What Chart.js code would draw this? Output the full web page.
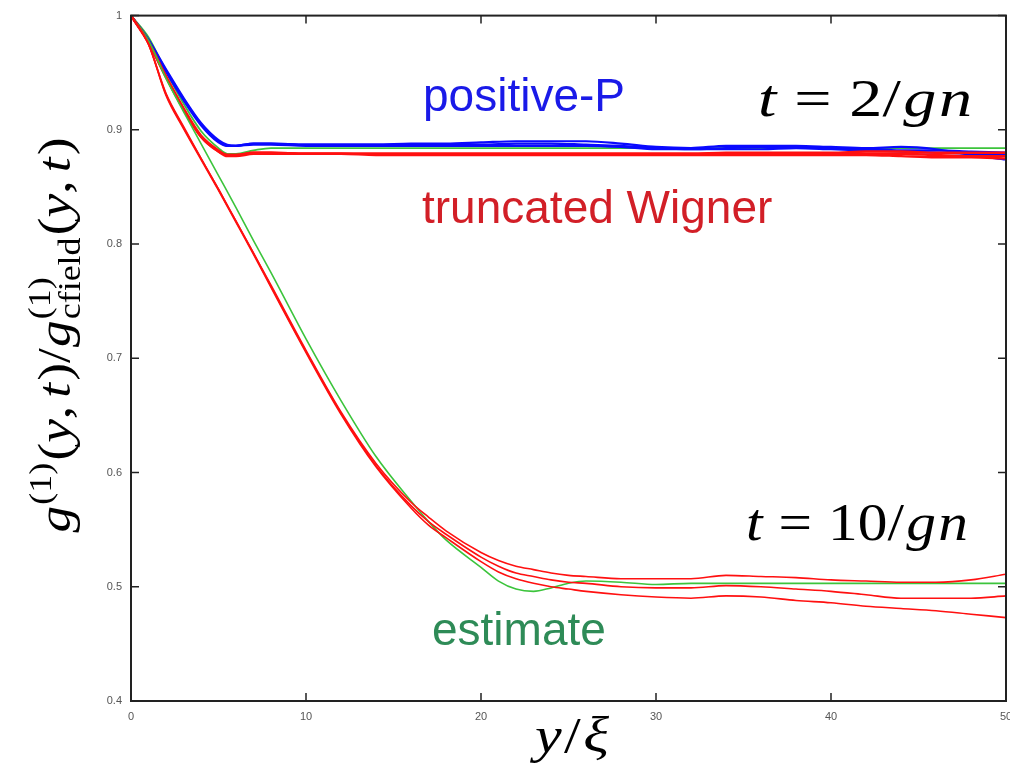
<!DOCTYPE html>
<html lang="en">
<head>
  <meta charset="UTF-8" />
  <title>g1 correlation vs y/xi</title>
  <script src="https://cdn.jsdelivr.net/npm/chart.js"></script>
  <style>
    html, body { margin: 0; padding: 0; background: #fff; overflow: hidden; }
    .wrap { width: 1010px; height: 765px; overflow: hidden; position: relative; }
    /* canvas a bit wider than the window so the "50" label gets cut like the original */
    .box { position: absolute; left: 0; top: 0; width: 1030px; height: 765px; }
  </style>
</head>
<body>
  <div class="wrap"><div class="box"><canvas id="g1Chart"></canvas></div></div>

  <script>
    // ---- data ----
    const xT2 = [0, 1, 2, 3, 4, 5, 5.5, 6, 7, 8, 10, 12, 14, 16, 18, 20, 22, 24, 26, 28, 30, 32, 34, 36, 38, 40, 42, 44, 46, 48, 50];

    const posPA = [1.0, .979, .953, .928, .906, .891, .887, .886, .888, .888, .887, .887, .887, .888, .888, .889, .890, .890, .890, .888, .885, .884, .886, .886, .886, .885, .884, .885, .883, .878, .874];
    const posPB = [1.0, .978, .952, .927, .905, .890, .886, .886, .888, .888, .887, .887, .887, .887, .887, .887, .888, .888, .887, .886, .884, .883, .884, .885, .885, .884, .883, .882, .882, .881, .880];
    const posPC = [1.0, .978, .951, .926, .904, .889, .886, .886, .887, .887, .886, .886, .886, .886, .886, .886, .886, .886, .886, .885, .883, .883, .883, .883, .884, .883, .882, .881, .880, .879, .878];

    const twA = [1.0, .977, .947, .919, .895, .882, .878, .878, .880, .880, .879, .879, .879, .879, .879, .879, .879, .879, .879, .879, .879, .879, .880, .880, .880, .880, .881, .881, .880, .880, .880];
    const twB = [1.0, .977, .946, .918, .894, .881, .878, .878, .880, .880, .879, .879, .879, .879, .879, .879, .879, .879, .879, .879, .879, .879, .879, .879, .879, .879, .879, .879, .878, .877, .877];
    const twC = [1.0, .976, .946, .918, .894, .881, .877, .877, .879, .879, .879, .879, .878, .878, .878, .878, .878, .878, .878, .878, .878, .878, .878, .878, .878, .878, .878, .877, .876, .876, .875];

    const estT2 = [1.0, .981, .951, .923, .899, .884, .879, .879, .882, .884, .884, .884, .884, .884, .884, .884, .884, .884, .884, .884, .884, .884, .884, .884, .884, .884, .884, .884, .884, .884, .884];

    const xT10 = [0, 1, 2, 3, 4, 5, 6, 7, 8, 10, 12, 14, 16, 17, 18, 20, 21, 22, 23, 24, 25, 26, 28, 30, 32, 34, 36, 38, 40, 42, 44, 46, 48, 50];

    const tw10A = [1.0, .975, .932, .903, .875, .848, .820, .792, .764, .707, .653, .608, .574, .561, .549, .530, .523, .518, .515, .512, .510, .509, .507, .507, .507, .510, .509, .508, .506, .505, .504, .504, .506, .511];
    const tw10B = [1.0, .975, .931, .902, .875, .848, .820, .792, .763, .706, .652, .606, .571, .557, .546, .526, .518, .512, .509, .506, .504, .503, .500, .499, .499, .501, .500, .498, .496, .493, .490, .490, .490, .492];
    const tw10C = [1.0, .975, .930, .901, .874, .847, .819, .791, .762, .705, .651, .605, .569, .554, .543, .522, .513, .507, .503, .500, .498, .496, .493, .491, .490, .492, .491, .488, .486, .483, .481, .479, .476, .473];

    const estT10 = [1.0, .978, .945, .916, .888, .860, .832, .803, .775, .717, .663, .614, .575, .557, .541, .517, .505, .498, .496, .499, .503, .505, .504, .502, .503, .503, .503, .503, .503, .503, .503, .503, .503, .503];

    const xTicks = [0, 10, 20, 30, 40, 50];
    const yTicks = [0.4, 0.5, 0.6, 0.7, 0.8, 0.9, 1.0];

    // ---- styling helpers ----
    const SERIF = '"Liberation Serif", "Times New Roman", serif';
    const SANS = '"Liberation Sans", Arial, Helvetica, sans-serif';
    const it = s => `italic ${s}px ${SERIF}`;
    const rm = s => `${s}px ${SERIF}`;

    const RED = '#ff1010';
    const BLUE = '#0a0aff';
    const GREEN = '#3cc43c';

    function mk(xs, ys, color, width) {
      return {
        data: xs.map((x, i) => ({ x: x, y: ys[i] })),
        borderColor: color,
        borderWidth: width,
        pointRadius: 0,
        fill: false,
        cubicInterpolationMode: 'monotone'
      };
    }

    function runWidth(ctx, r) {
      const parts = r.stack || [r];
      let w = 0;
      parts.forEach(p => { ctx.font = p.f; w = Math.max(w, ctx.measureText(p.t).width); });
      return w + (r.gap || 0);
    }

    // draws a row of text runs centred on cx, squeezed/stretched to targetW
    function drawMath(ctx, runs, cx, baseline, targetW, color) {
      const natural = runs.reduce((s, r) => s + runWidth(ctx, r), 0);
      const k = targetW ? targetW / natural : 1;
      ctx.save();
      ctx.translate(cx, baseline);
      ctx.scale(k, 1);
      ctx.fillStyle = color;
      ctx.textAlign = 'left';
      ctx.textBaseline = 'alphabetic';
      let x = -natural / 2;
      runs.forEach(r => {
        const w = runWidth(ctx, r);
        (r.stack || [r]).forEach(p => {
          ctx.font = p.f;
          ctx.fillText(p.t, x, p.dy || 0);
        });
        x += w;
      });
      ctx.restore();
    }

    const yTitle = [
      { t: 'g', f: it(46), gap: 1 },
      { t: '(1)', f: rm(31), dy: -19, gap: 2 },
      { t: '(', f: rm(46) }, { t: 'y', f: it(46) }, { t: ',', f: rm(46), gap: 7 }, { t: 't', f: it(46), gap: 2 }, { t: ')', f: rm(46) },
      { t: '/', f: rm(46), gap: 1 },
      { t: 'g', f: it(46), gap: 1 },
      { stack: [{ t: '(1)', f: rm(31), dy: -20 }, { t: 'cfield', f: rm(31), dy: 10 }], gap: 2 },
      { t: '(', f: rm(46) }, { t: 'y', f: it(46) }, { t: ',', f: rm(46), gap: 7 }, { t: 't', f: it(46), gap: 2 }, { t: ')', f: rm(46) }
    ];

    const xTitle = [
      { t: 'y', f: it(50), gap: 2 }, { t: '/', f: rm(50), gap: 2 }, { t: 'ξ', f: it(50) }
    ];

    const t2Label = [
      { t: 't', f: it(52), gap: 14 }, { t: '=', f: rm(52), gap: 14 }, { t: '2', f: rm(52) }, { t: '/', f: rm(52), gap: 2 }, { t: 'g', f: it(52), gap: 2 }, { t: 'n', f: it(52) }
    ];
    const t10Label = [
      { t: 't', f: it(52), gap: 14 }, { t: '=', f: rm(52), gap: 14 }, { t: '10', f: rm(52) }, { t: '/', f: rm(52), gap: 2 }, { t: 'g', f: it(52), gap: 2 }, { t: 'n', f: it(52) }
    ];

    const framePlugin = {
      id: 'frame',
      afterDatasetsDraw(chart) {
        const { ctx, chartArea: a, scales: { x, y } } = chart;
        ctx.save();
        ctx.strokeStyle = '#222';
        ctx.lineWidth = 2;
        ctx.strokeRect(a.left, a.top, a.right - a.left, a.bottom - a.top);

        // inward ticks on all four sides
        ctx.lineWidth = 1.5;
        ctx.beginPath();
        x.ticks.forEach(t => {
          const px = x.getPixelForValue(t.value);
          ctx.moveTo(px, a.bottom); ctx.lineTo(px, a.bottom - 8);
          ctx.moveTo(px, a.top); ctx.lineTo(px, a.top + 8);
        });
        y.ticks.forEach(t => {
          const py = y.getPixelForValue(t.value);
          ctx.moveTo(a.left, py); ctx.lineTo(a.left + 8, py);
          ctx.moveTo(a.right, py); ctx.lineTo(a.right - 8, py);
        });
        ctx.stroke();
        ctx.restore();
      },
      afterDraw(chart) {
        const ctx = chart.ctx;
        ctx.save();
        ctx.textAlign = 'left';
        ctx.textBaseline = 'alphabetic';
        ctx.font = `46px ${SANS}`;
        ctx.fillStyle = '#1a1ae8';
        ctx.fillText('positive-P', 423, 111);
        ctx.fillStyle = '#d21f27';
        ctx.fillText('truncated Wigner', 422, 223);
        ctx.fillStyle = '#2e8b57';
        ctx.fillText('estimate', 432, 645);
        ctx.restore();

        drawMath(ctx, t2Label, 865, 116, 214, '#000');
        drawMath(ctx, t10Label, 857, 540, 222, '#000');
        drawMath(ctx, xTitle, 572, 752, 74, '#000');

        // rotated y-axis title
        ctx.save();
        ctx.translate(70, 335);
        ctx.rotate(-Math.PI / 2);
        drawMath(ctx, yTitle, 0, 0, 395, '#000');
        ctx.restore();
      }
    };

    const tickFont = { family: SANS, size: 11 };

    new Chart(document.getElementById('g1Chart'), {
      type: 'line',
      data: {
        datasets: [
          mk(xT10, tw10A, RED, 1.6),
          mk(xT10, tw10B, RED, 1.6),
          mk(xT10, tw10C, RED, 1.6),
          mk(xT10, estT10, GREEN, 1.6),
          mk(xT2, twA, RED, 2.4),
          mk(xT2, twB, RED, 2.4),
          mk(xT2, twC, RED, 2.4),
          mk(xT2, posPA, BLUE, 2.2),
          mk(xT2, posPB, BLUE, 2.2),
          mk(xT2, posPC, BLUE, 2.2),
          mk(xT2, estT2, GREEN, 1.8)
        ]
      },
      options: {
        responsive: true,
        maintainAspectRatio: false,
        animation: false,
        devicePixelRatio: 1,
        layout: { padding: { top: 10, right: 24, left: 0, bottom: 0 } },
        plugins: { legend: { display: false }, tooltip: { enabled: false } },
        scales: {
          x: {
            type: 'linear',
            min: 0,
            max: 50,
            afterBuildTicks: s => { s.ticks = xTicks.map(v => ({ value: v })); },
            ticks: { color: '#555', font: tickFont, padding: 9, maxRotation: 0, autoSkip: false },
            grid: { display: false, drawTicks: false },
            border: { display: false },
            afterFit: s => { s.height = 64; }
          },
          y: {
            min: 0.4,
            max: 1.0,
            afterBuildTicks: s => { s.ticks = yTicks.map(v => ({ value: v })); },
            ticks: {
              color: '#555',
              font: tickFont,
              padding: 9,
              autoSkip: false,
              callback: v => String(+v.toFixed(1))
            },
            grid: { display: false, drawTicks: false },
            border: { display: false },
            afterFit: s => { s.width = 131; }
          }
        }
      },
      plugins: [framePlugin]
    });
  </script>
</body>
</html>
